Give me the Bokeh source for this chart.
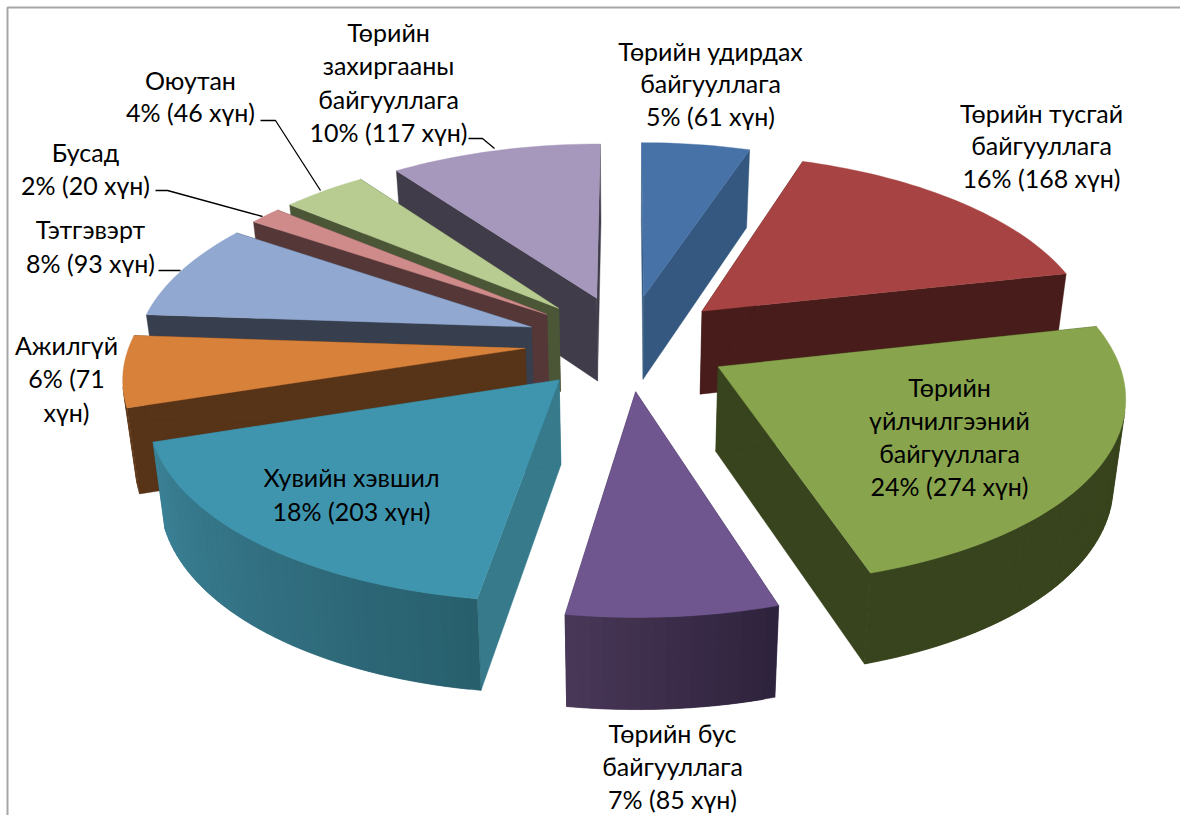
import math
from bokeh.plotting import figure
from bokeh.models import Range1d, ColumnDataSource
from bokeh.core.properties import value
from bokeh.embed import file_html
from bokeh.resources import INLINE

# ---- data (clockwise from 12 o'clock) ----
categories = ["Төрийн удирдах байгууллага", "Төрийн тусгай байгууллага",
              "Төрийн үйлчилгээний байгууллага", "Төрийн бус байгууллага",
              "Хувийн хэвшил", "Ажилгүй", "Тэтгэвэрт", "Бусад", "Оюутан",
              "Төрийн захиргааны байгууллага"]
people = [61, 168, 274, 85, 203, 71, 93, 20, 46, 117]
# share of the circle (%) of each slice
slice_share = [5.14, 16.36, 23.64, 7.28, 17.58, 6.11, 8.33, 1.53, 4.03, 10.0]

top_colors = ["#4672A8", "#A74342", "#88A44D", "#6F568E", "#4095AE",
              "#D7813A", "#91A8D0", "#CE8B8A", "#B8CC92", "#A698BC"]
cut_colors = ["#34587F", "#471C1A", "#38441D", "#3B2E50", "#367A8B",
              "#573317", "#373E4D", "#553738", "#4B5637", "#403C4A"]
rim_start = ["#34587F", "#471C1A", "#38441D", "#2E233D", "#285F6D",
             "#573317", "#373E4D", "#553738", "#4B5637", "#403C4A"]
rim_end = ["#34587F", "#471C1A", "#38441D", "#4A3858", "#3C8297",
           "#C8742E", "#373E4D", "#553738", "#4B5637", "#403C4A"]

label_lines = [
    ["Төрийн удирдах", "байгууллага", "5% (61 хүн)"],
    ["Төрийн тусгай", "байгууллага", "16% (168 хүн)"],
    ["Төрийн", "үйлчилгээний", "байгууллага", "24% (274 хүн)"],
    ["Төрийн бус", "байгууллага", "7% (85 хүн)"],
    ["Хувийн хэвшил", "18% (203 хүн)"],
    ["Ажилгүй", "6% (71", "хүн)"],
    ["Тэтгэвэрт", "8% (93 хүн)"],
    ["Бусад", "2% (20 хүн)"],
    ["Оюутан", "4% (46 хүн)"],
    ["Төрийн", "захиргааны", "байгууллага", "10% (117 хүн)"],
]
label_x = [710, 1041, 949, 672, 351, 66, 90, 85, 190, 388]
label_y = [50, 112, 386, 732, 476, 344, 228, 151, 79, 31]
label_step = [32.5, 32.5, 33, 33, 34, 33.5, 34, 33, 32, 33.5]

leaders = [
    ([468, 482, 494], [138, 138, 148]),
    ([260, 275, 320], [120, 120, 190]),
    ([155, 167, 262], [190, 190, 216]),
    ([158, 180], [270, 270]),
]

# ---- projection of the exploded 3-D pie ----
CX, CY, RX, RY, PERSP, PERSP_Y, EXPLODE, DEPTH, TAPER = 627, 342, 395, 184, 0.134, 0.125, 0.26, 84, 0.025


def project(u, v, drop):
    s = 1 / (1 + PERSP * v)
    sy = 1 / (1 + PERSP_Y * v)
    return CX + RX * u * s * (1 - TAPER * drop), CY - RY * v * sy + drop * DEPTH * s ** 0.5


def area(xs, ys):
    return sum(xs[i] * ys[(i + 1) % len(xs)] - xs[(i + 1) % len(xs)] * ys[i] for i in range(len(xs)))


def mix(a, b, t):
    ca = [int(a[i:i + 2], 16) for i in (1, 3, 5)]
    cb = [int(b[i:i + 2], 16) for i in (1, 3, 5)]
    return "#%02x%02x%02x" % tuple(round(x + (y - x) * t) for x, y in zip(ca, cb))


total = sum(slice_share)
slices = []
cum = 0
for i, n in enumerate(slice_share):
    a0 = 2 * math.pi * cum / total
    a1 = 2 * math.pi * (cum + n) / total
    slices.append((i, a0, a1))
    cum += n
slices.sort(key=lambda t: -math.cos((t[1] + t[2]) / 2))

px, py, pc = [], [], []


def add(xs, ys, c):
    px.append(xs)
    py.append(ys)
    pc.append(c)


for i, a0, a1 in slices:
    am = (a0 + a1) / 2
    ou, ov = EXPLODE * math.sin(am), EXPLODE * math.cos(am)
    steps = max(4, int((a1 - a0) / math.radians(1.5)))
    ang = [a0 + (a1 - a0) * k / steps for k in range(steps + 1)]
    rim = [(ou + math.sin(a), ov + math.cos(a)) for a in ang]
    apex = (ou, ov)
    faces = []
    for edge in (rim[0], rim[-1]):
        pts = [project(*apex, 0), project(*edge, 0), project(*edge, 1), project(*apex, 1)]
        faces.append(([p[0] for p in pts], [p[1] for p in pts]))
    # hidden cut faces first, then visible ones
    sign0 = area(*faces[0])
    faces_sorted = [faces[0], faces[1]] if sign0 < 0 else [faces[1], faces[0]]
    for xs, ys in faces_sorted:
        add(xs, ys, cut_colors[i])
    for k in range(steps):
        pts = [project(*rim[k], 0), project(*rim[k + 1], 0), project(*rim[k + 1], 1), project(*rim[k], 1)]
        xs, ys = [p[0] for p in pts], [p[1] for p in pts]
        if area(xs, ys) < 0:  # wall that faces the viewer (y axis points down)
            e = min(k + 2, steps)  # overlap the next strip, so no seams show
            pts = [project(*rim[k], 0), project(*rim[e], 0), project(*rim[e], 1), project(*rim[k], 1)]
            add([q[0] for q in pts], [q[1] for q in pts], mix(rim_start[i], rim_end[i], k / steps))
    pts = [project(*apex, 0)] + [project(*r, 0) for r in rim]
    add([q[0] for q in pts], [q[1] for q in pts], top_colors[i])

p = figure(width=1180, height=815, x_range=Range1d(0, 1180), y_range=Range1d(815, 0),
           output_backend="svg", toolbar_location=None, min_border=0,
           background_fill_color="white", border_fill_color="white", outline_line_color=None)
p.axis.visible = False
p.grid.visible = False

p.patches("x", "y", fill_color="c", line_color="c", line_width=0.4,
          source=ColumnDataSource(dict(x=px, y=py, c=pc)))

# chart frame (top and left only are in the picture)
p.line([7, 7, 1180], [815, 7, 7], line_color="#A6A6A6", line_width=2)

for xs, ys in leaders:
    p.line(xs, ys, line_color="black", line_width=1.3)

tx, ty, tt = [], [], []
for lines, x, y, step in zip(label_lines, label_x, label_y, label_step):
    for j, t in enumerate(lines):
        tx.append(x)
        ty.append(y + j * step)
        tt.append(t)
p.text(tx, ty, text=tt, text_align="center", text_baseline="middle",
       text_font=value("Lato"), text_font_size="25px", text_color="black")

open("out.html", "w").write(file_html(p, INLINE))
